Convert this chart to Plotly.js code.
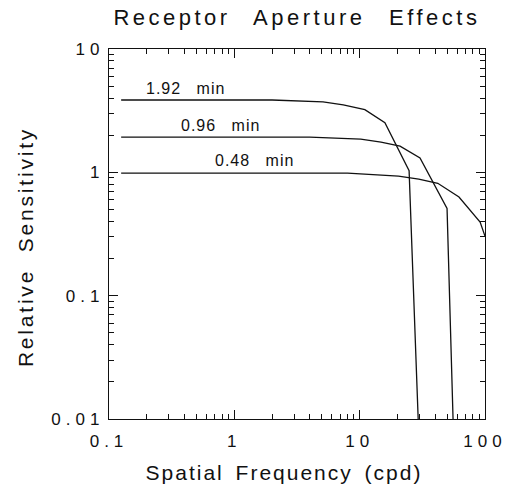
<!DOCTYPE html>
<html>
<head>
<meta charset="utf-8">
<script src="https://cdn.plot.ly/plotly-3.0.1.min.js"></script>
<style>
  html, body { margin: 0; padding: 0; background: #fff; }
  #chart { width: 520px; height: 495px; }
  .xtick text, .ytick text { letter-spacing: 5px; }
  .gtitle { letter-spacing: 3.5px; word-spacing: 14px; }
  .xtitle { letter-spacing: 2px; word-spacing: 4px; }
  .ytitle { letter-spacing: 2.8px; word-spacing: 8px; }
  .annotation-text { letter-spacing: 1px; word-spacing: 10px; }
</style>
</head>
<body>
<div id="chart"></div>
<script>
// Aperture 1.92 min
const freq192 = [0.125, 2, 5.1, 7.4, 11, 15.9, 24.8, 29.3];
const sens192 = [3.86, 3.86, 3.72, 3.52, 3.22, 2.53, 1.03, 0.01];
// Aperture 0.96 min
const freq096 = [0.125, 4, 10.2, 14.8, 21, 30.3, 49.8, 55.6];
const sens096 = [1.93, 1.93, 1.86, 1.76, 1.63, 1.31, 0.51, 0.01];
// Aperture 0.48 min
const freq048 = [0.125, 8, 20.4, 29.6, 42, 62, 91.4, 100];
const sens048 = [0.986, 0.986, 0.93, 0.88, 0.815, 0.63, 0.395, 0.304];

const labels = ["1.92 min", "0.96 min", "0.48 min"];
const labelX = [0.41, 0.78, 1.44];
const labelY = [4.75, 2.38, 1.24];

const fontFam = "Liberation Sans, Arial, Helvetica, sans-serif";
const ink = "#111";
const lineStyle = { color: ink, width: 1.3 };
const traces = [
  { x: freq192, y: sens192, mode: "lines", line: lineStyle, name: labels[0] },
  { x: freq096, y: sens096, mode: "lines", line: lineStyle, name: labels[1] },
  { x: freq048, y: sens048, mode: "lines", line: lineStyle, name: labels[2] }
];

const axisCommon = {
  type: "log",
  showgrid: false,
  zeroline: false,
  showline: true,
  linecolor: ink,
  linewidth: 1.3,
  mirror: "allticks",
  ticks: "inside",
  ticklen: 9,
  tickwidth: 1.1,
  tickcolor: ink,
  dtick: 1,
  tickfont: { family: fontFam, size: 17, color: ink },
  minor: { ticks: "inside", ticklen: 5, tickwidth: 1, tickcolor: ink, showgrid: false }
};

const layout = {
  width: 520,
  height: 495,
  margin: { l: 109, r: 35, t: 49, b: 76 },
  paper_bgcolor: "#fff",
  plot_bgcolor: "#fff",
  showlegend: false,
  title: {
    text: "Receptor Aperture Effects",
    font: { family: fontFam, size: 22, color: ink },
    x: 0.571, xanchor: "center", y: 0.965, yanchor: "middle"
  },
  xaxis: Object.assign({}, axisCommon, {
    range: [-1, 2],
    ticklabelstandoff: 6,
    title: { text: "Spatial Frequency (cpd)", font: { family: fontFam, size: 21, color: ink }, standoff: 15 }
  }),
  yaxis: Object.assign({}, axisCommon, {
    range: [-2, 1],
    title: { text: "Relative Sensitivity", font: { family: fontFam, size: 21, color: ink }, standoff: 12 }
  }),
  annotations: labels.map((t, i) => ({
    x: Math.log10(labelX[i]), y: Math.log10(labelY[i]),
    xref: "x", yref: "y", text: t, showarrow: false,
    font: { family: fontFam, size: 16, color: ink },
    xanchor: "center", yanchor: "middle"
  }))
};

Plotly.newPlot("chart", traces, layout, { displayModeBar: false }).then(function () {
  // nudge the axis titles to sit where the original figure places them
  const xt = document.querySelector(".g-xtitle text");
  if (xt) xt.setAttribute("x", parseFloat(xt.getAttribute("x")) - 13);
  const yt = document.querySelector(".g-ytitle text");
  if (yt) yt.setAttribute("transform", "translate(0,13) " + (yt.getAttribute("transform") || ""));
});
</script>
</body>
</html>
